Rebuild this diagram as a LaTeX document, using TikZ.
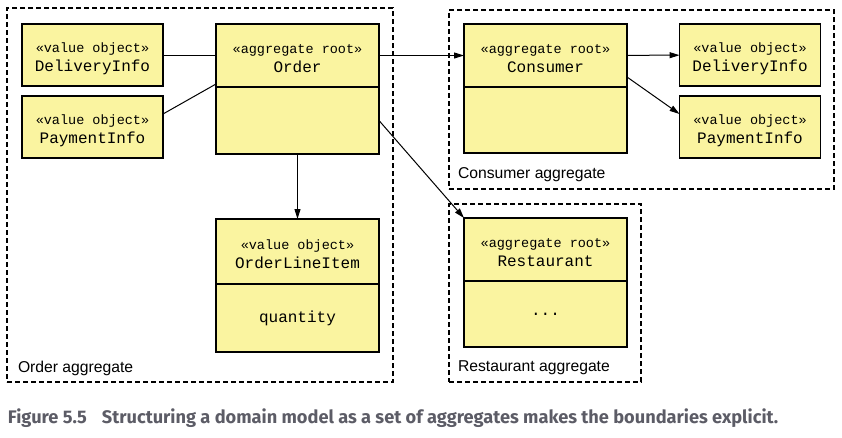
\documentclass[tikz,border=0pt]{standalone}
\usepackage{fontspec}
\setmainfont{Liberation Sans}
\setmonofont{Liberation Mono}
\newfontfamily\capfont{Fira Sans}
\usetikzlibrary{
  arrows.meta,
  positioning,
}
\definecolor{boxfill}{RGB}{250,244,160}
\definecolor{capgray}{RGB}{92,92,102}
\tikzset{
  >={Triangle[width=6pt,length=10pt]},
}
\newcommand{\stereo}[1]{{\fontsize{13.5}{19}\selectfont\guillemotleft#1\guillemotright}}

\begin{document}
\begin{tikzpicture}[
      x=1pt, y=-1pt,
      every node/.style={
        align=center,
        inner sep=0pt,
        outer sep=0pt,
      },
      umlbox/.style={draw, line width=1.3pt,
        fill=boxfill,
        minimum width=163pt,
        font=\ttfamily\fontsize{16}{19}\selectfont,
      },
      headtext/.style={
        text height=33pt,
        text depth=0pt,
      },
      objbox/.style={umlbox, headtext,
        minimum width=141pt,
        minimum height=62pt,
      },
      rootbox/.style={umlbox, headtext,
        minimum height=63pt,
      },
      bodybox/.style={umlbox,
        minimum height=67pt,
      },
      boundary/.style={draw, dashed,
        line width=1.1pt,
        dash pattern=on 5pt off 3pt,
        anchor=north west,
      },
      bname/.style={
        anchor=base west,
        font=\fontsize{15.7}{18}\selectfont,
      },
      link/.style={line width=1pt},
      ]
      \useasboundingbox (0,0) rectangle (842,437);

      % aggregate boundaries
      \node[boundary, minimum width=386pt, minimum height=374pt] (orderagg) at (7,8) {};
      \node[boundary, minimum width=385pt, minimum height=179pt] (consagg) at (449,10) {};
      \node[boundary, minimum width=192pt, minimum height=178pt] (restagg) at (449,204) {};

      % Order aggregate
      \node[objbox] (delivery) at (92.5,55) {\stereo{value object}\\DeliveryInfo};
      \node[objbox] (payment) at (92.5,127) {\stereo{value object}\\PaymentInfo};
      \node[rootbox] (order) at (297.5,55.5) {\stereo{aggregate root}\\Order};
      \node[bodybox, below=0pt of order] (orderbody) {};
      \node[rootbox, minimum height=65pt] (lineitem) at (297.5,251.5) {\stereo{value object}\\OrderLineItem};
      \node[bodybox, minimum height=68pt, below=0pt of lineitem] (lineitembody) {quantity};

      % Consumer aggregate
      \node[rootbox] (consumer) at (545.5,55.5) {\stereo{aggregate root}\\Consumer};
      \node[bodybox, minimum height=66pt, below=0pt of consumer] (consumerbody) {};
      \node[objbox] (cdelivery) at (750,55) {\stereo{value object}\\DeliveryInfo};
      \node[objbox] (cpayment) at (750,127) {\stereo{value object}\\PaymentInfo};

      % Restaurant aggregate
      \node[rootbox] (restaurant) at (545.5,249.5) {\stereo{aggregate root}\\Restaurant};
      \node[bodybox, minimum height=66pt, below=0pt of restaurant] (restaurantbody) {...};

      \node[bname] at (18,372) {Order aggregate};
      \node[bname] at (458,178) {Consumer aggregate};
      \node[bname] at (458,371) {Restaurant aggregate};

      \draw[link] (delivery) -- (delivery -| order.west);
      \draw[link] ([yshift=13pt]payment.east) -- ([yshift=3pt]order.south west);
      \draw[link,->] (order) -- (consumer);
      \draw[link,->] (orderbody) -- (lineitem);
      \draw[link,->] (orderbody.east) -- (restaurant.north west);
      \draw[link,->] (consumer) -- (cdelivery);
      \draw[link,->] ([yshift=-21.5pt]consumer.east) -- ([yshift=13pt]cpayment.west);

      \node[anchor=base west, text=capgray, font=\capfont\bfseries\fontsize{18.2}{22}\selectfont] (caption) at (8,423)
        {Figure 5.5\hspace{15pt}Structuring a domain model as a set of aggregates makes the boundaries explicit.};
    \end{tikzpicture}
\end{document}
